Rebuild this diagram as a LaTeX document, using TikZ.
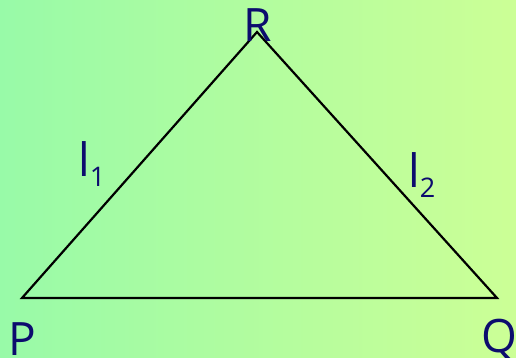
\documentclass[tikz,border=0pt]{standalone}
\usepackage{fontspec}
\setmainfont{Open Sans}
\definecolor{bgleft}{RGB}{152,250,168}
\definecolor{bgright}{RGB}{204,255,150}
\definecolor{ink}{RGB}{12,12,110}
\begin{document}
\begin{tikzpicture}[x=1pt,y=-1pt,
  lbl/.style={inner sep=0pt,text=ink,font=\fontsize{46}{46}\selectfont},
  edge/.style={line width=2.2pt,line join=miter,line cap=round}]
\shade[left color=bgleft,right color=bgright] (0,0) rectangle (516,358);
\useasboundingbox (0,0) rectangle (516,358);
\coordinate (P) at (22,298);
\coordinate (Q) at (497,298);
\coordinate (R) at (257,32);
\draw[edge] (P) -- (Q) -- (R) -- cycle;
\node[lbl,anchor=base] (labR) at (258,42) {R};
\node[lbl,anchor=base] (labP) at (22,355) {P};
\node[lbl,anchor=base] (labQ) at (499,352) {Q};
\node[lbl,anchor=base west] (labl1) at (78,176) {l\raisebox{-10pt}{\fontsize{27}{27}\selectfont 1}};
\node[lbl,anchor=base west] (labl2) at (408,187) {l\raisebox{-10pt}{\fontsize{27}{27}\selectfont 2}};
\end{tikzpicture}
\end{document}
